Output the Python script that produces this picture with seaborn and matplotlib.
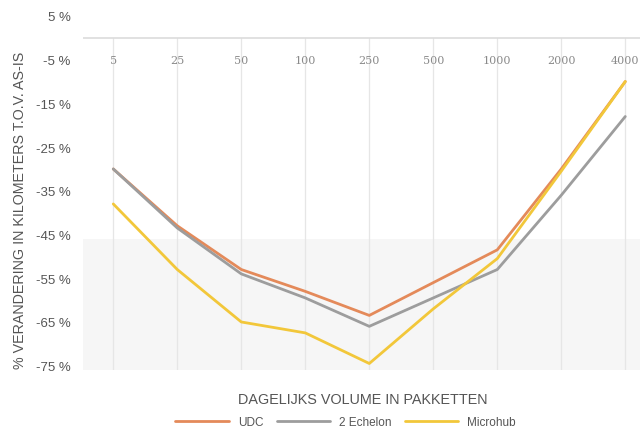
import matplotlib
matplotlib.use("Agg")
import matplotlib.pyplot as plt
import seaborn as sns
import pandas as pd

# ---- Data ----
volumes = ["5", "25", "50", "100", "250", "500", "1000", "2000", "4000"]
udc = [-30, -43, -53, -58, -63.5, -56, -48.5, -30, -10]
echelon = [-30, -43.5, -54, -59.5, -66, -59.5, -53, -36, -18]
microhub = [-38, -53, -65, -67.5, -74.5, -62, -50.5, -30.5, -10]
series_names = ["UDC", "2 Echelon", "Microhub"]
y_ticks = [5, -5, -15, -25, -35, -45, -55, -65, -75]

colors = {"UDC": "#e48a5a", "2 Echelon": "#9d9d9d", "Microhub": "#f2c73a"}

df = pd.DataFrame({
    "volume": volumes * 3,
    "pct": udc + echelon + microhub,
    "serie": sum([[name] * len(volumes) for name in series_names], []),
})
df["pos"] = df["volume"].map({v: i for i, v in enumerate(volumes)})

sns.set_style("white")
plt.rcParams["font.family"] = ["Liberation Sans", "DejaVu Sans"]

fig = plt.figure(figsize=(6.4, 4.35), dpi=100)
ax = fig.add_axes([0.13, 0.147, 0.87, 0.814])

# faint grey band behind lower half of the plot
ax.axhspan(-77, -46, color="#f6f6f6", zorder=0, lw=0)

# vertical grid lines from 0 down
for i in range(len(volumes)):
    ax.plot([i, i], [0, -76], color="#e6e6e6", lw=0.9, zorder=1)
ax.axhline(0, color="#dcdcdc", lw=1.2, zorder=1)

sns.lineplot(data=df, x="pos", y="pct", hue="serie", palette=colors,
             hue_order=series_names, lw=2.0, ax=ax, legend=True, zorder=3)

# category labels sit just under the zero line
for i, v in enumerate(volumes):
    ax.text(i, -5, v, ha="center", va="center", fontsize=8,
            color="#8a8a8a", family="DejaVu Serif")

ax.set_xlim(-0.47, 8.23)
ax.set_ylim(-76, 5)
ax.set_xticks([])
ax.set_yticks(y_ticks)
ax.set_yticklabels([f"{t} %" for t in y_ticks], fontsize=9.5, color="#555555")
ax.tick_params(axis="y", length=0, pad=9)
for s in ax.spines.values():
    s.set_visible(False)

ax.set_xlabel("")
ax.set_ylabel("")
fig.text(20 / 640, 1 - 210 / 435, "% VERANDERING IN KILOMETERS T.O.V. AS-IS",
         rotation=90, ha="center", va="center", fontsize=10.3, color="#555555")
fig.text(0.567, 0.08, "DAGELIJKS VOLUME IN PAKKETTEN", ha="center",
         va="center", fontsize=10.4, color="#555555")

handles, labels = ax.get_legend_handles_labels()
ax.legend(handles, labels, loc="center", bbox_to_anchor=(0.54, 0.028),
          bbox_transform=fig.transFigure, ncol=3, frameon=False,
          fontsize=8.5, handlelength=4.5, columnspacing=1.1, handletextpad=0.8,
          labelcolor="#555555")

fig.savefig("out.png", dpi=100)
